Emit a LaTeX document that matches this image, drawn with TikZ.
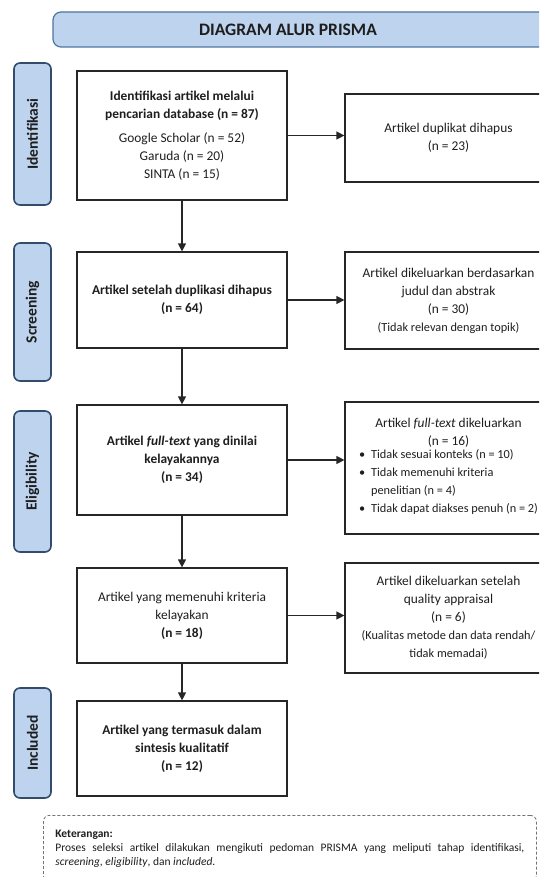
\documentclass[tikz,border=0pt]{standalone}
\usepackage{fontspec}
\setmainfont{Carlito}
\usetikzlibrary{positioning,arrows.meta}

\definecolor{labelblue}{RGB}{189,211,238}
\definecolor{labelline}{RGB}{50,76,108}
\definecolor{titleline}{RGB}{80,116,160}
\definecolor{ink}{RGB}{30,30,30}

\newcommand{\boxfont}{\fontsize{13.4}{18}\selectfont}
\newcommand{\smallfont}{\fontsize{12.3}{18}\selectfont}

\tikzset{
  titlebar/.style={draw=titleline, line width=1.2pt, fill=labelblue, rounded corners=8pt},
  titletext/.style={text=ink, font=\fontsize{17.5}{20}\selectfont\bfseries},
  stagebox/.style={draw=labelline, line width=1.6pt, fill=labelblue, rounded corners=6pt,
    rotate=90, minimum height=37pt, inner sep=0pt, text=ink, font=\fontsize{15.5}{18}\selectfont\bfseries},
  mainbox/.style={draw=black!85, line width=1.2pt, minimum width=210pt, align=center,
    inner sep=2pt, text=ink, font=\boxfont},
  outbox/.style={draw=black!85, line width=1.2pt, minimum width=207pt, align=center,
    inner sep=2pt, text=ink, font=\boxfont},
  notebox/.style={draw=black!55, line width=0.8pt, dash pattern=on 3pt off 2pt, rounded corners=6pt,
    text width=469pt, align=justify, inner xsep=12pt, inner ysep=11pt, text=ink,
    font=\fontsize{11.5}{14}\selectfont},
  flow/.style={-{Triangle[length=8pt,width=8pt]}, line width=1.2pt, black!85}
}

\begin{document}
\begin{tikzpicture}[x=1pt, y=-1pt]
  \useasboundingbox (0,0) rectangle (539,877);
  \clip (0,0) rectangle (539,877);

  % Title bar
  \draw[titlebar] (53,12) rectangle (548,47);
  \node[titletext] (title) at (288,29.5) {DIAGRAM ALUR PRISMA};

  % Stage labels on the left
  \node[stagebox, minimum width=142pt] (stgident) at (32.5,134) {Identifikasi};
  \node[stagebox, minimum width=138pt] (stgscreen) at (32.5,312) {Screening};
  \node[stagebox, minimum width=141pt] (stgelig) at (32.5,481.5) {Eligibility};
  \node[stagebox, minimum width=110pt] (stgincl) at (32.5,743) {Included};

  % Main flow boxes
  \node[mainbox, minimum height=129pt] (ident) at (182,135.5)
    {\textbf{Identifikasi artikel melalui}\\\textbf{pencarian database (n = 87)}\\[6pt]
     Google Scholar (n = 52)\\Garuda (n = 20)\\SINTA (n = 15)};
  \node[mainbox, minimum height=96pt] (screen) at (182,300)
    {\textbf{Artikel setelah duplikasi dihapus}\\\textbf{(n = 64)}};
  \node[mainbox, minimum height=110pt] (elig) at (182,460)
    {\textbf{Artikel \textit{full-text} yang dinilai}\\\textbf{kelayakannya}\\\textbf{(n = 34)}};
  \node[mainbox, minimum height=95pt] (layak) at (182,615.5)
    {Artikel yang memenuhi kriteria\\kelayakan\\\textbf{(n = 18)}};
  \node[mainbox, minimum height=95pt] (incl) at (182,748.5)
    {\textbf{Artikel yang termasuk dalam}\\\textbf{sintesis kualitatif}\\\textbf{(n = 12)}};

  % Excluded boxes on the right
  \node[outbox, minimum height=88pt] (dup) at (448.5,138)
    {Artikel duplikat dihapus\\(n = 23)};
  \node[outbox, minimum height=97pt] (judul) at (448.5,300.5)
    {Artikel dikeluarkan berdasarkan\\judul dan abstrak\\(n = 30)\\{\smallfont (Tidak relevan dengan topik)}};
  \node[outbox, minimum height=132pt] (fulltext) at (448.5,468)
    {Artikel \textit{full-text} dikeluarkan\\(n = 16)\\[-2pt]
     {\smallfont\begin{tabular}{@{}l@{\hspace{6pt}}l@{}}
       \textbullet & Tidak sesuai konteks (n = 10)\\
       \textbullet & Tidak memenuhi kriteria\\
                   & penelitian (n = 4)\\
       \textbullet & Tidak dapat diakses penuh (n = 2)
     \end{tabular}}};
  \node[outbox, minimum height=110pt] (quality) at (448.5,618)
    {Artikel dikeluarkan setelah\\quality appraisal\\(n = 6)\\
     {\smallfont (Kualitas metode dan data rendah/}\\{\smallfont tidak memadai)}};

  % Downward flow
  \draw[flow] (ident) -- (screen);
  \draw[flow] (screen) -- (elig);
  \draw[flow] (elig) -- (layak);
  \draw[flow] (layak) -- (incl);

  % Exclusions
  \draw[flow] (ident.east) -- (ident.east -| dup.west);
  \draw[flow] (screen.east) -- (screen.east -| judul.west);
  \draw[flow] (elig.east) -- (elig.east -| fulltext.west);
  \draw[flow] (layak.east) -- (layak.east -| quality.west);

  % Note at the bottom
  \node[notebox, anchor=north west, minimum height=66pt] (note) at (43,815)
    {\textbf{Keterangan:}\\
     Proses seleksi artikel dilakukan mengikuti pedoman PRISMA yang meliputi tahap identifikasi,\linebreak
     \textit{screening}, \textit{eligibility}, dan \textit{included}.};
\end{tikzpicture}
\end{document}
